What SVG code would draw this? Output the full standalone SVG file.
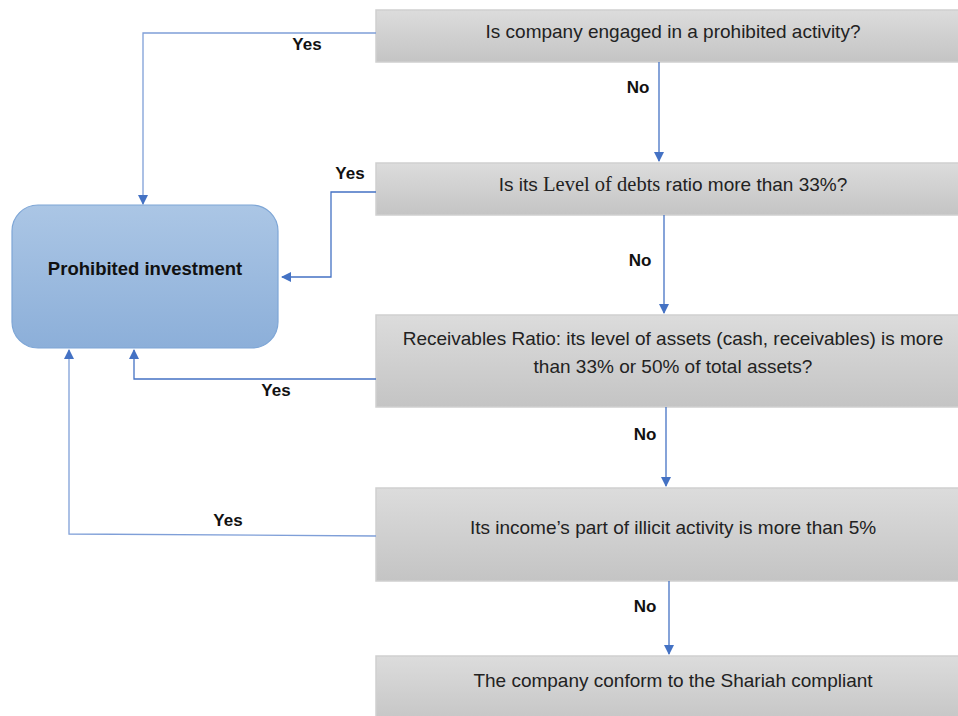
<svg xmlns="http://www.w3.org/2000/svg" width="958" height="716" viewBox="0 0 958 716">
<defs>
<linearGradient id="gray" x1="0" y1="0" x2="0" y2="1">
<stop offset="0" stop-color="#dcdcdc"/>
<stop offset="1" stop-color="#c4c4c4"/>
</linearGradient>
<linearGradient id="blue" x1="0" y1="0" x2="0" y2="1">
<stop offset="0" stop-color="#abc6e5"/>
<stop offset="1" stop-color="#8cafd9"/>
</linearGradient>
<marker id="arr" markerWidth="10" markerHeight="10" refX="9" refY="5" orient="auto" markerUnits="userSpaceOnUse">
<path d="M0,0 L10,5 L0,10 Z" fill="#4472c4"/>
</marker>
</defs>
<style>
.box{fill:url(#gray);stroke:#cfcfcf;stroke-width:1.5}
.t{font-family:"Liberation Sans",Arial,sans-serif;font-size:19px;fill:#222;text-anchor:middle}
.lab{font-family:"Liberation Sans",Arial,sans-serif;font-size:17px;font-weight:bold;fill:#111;text-anchor:middle}
.big{font-size:18.5px}
.c{fill:none;stroke:#4472c4;stroke-width:1.3;marker-end:url(#arr)}
.cl{fill:none;stroke:#7f9fd8;stroke-width:1.3;marker-end:url(#arr)}
</style>
<rect width="958" height="716" fill="#fff"/>
<g id="n1"><rect class="box" x="376" y="10" width="590" height="52"/><text class="t" x="673" y="38">Is company engaged in a prohibited activity?</text></g>
<g id="n2"><rect class="box" x="376" y="163" width="590" height="52"/><text class="t" x="673" y="191">Is its <tspan font-family="Liberation Serif,Times New Roman,serif" font-size="20.5">Level of debts</tspan> ratio more than 33%?</text></g>
<g id="n3"><rect class="box" x="376" y="315" width="590" height="92"/><text class="t" x="673" y="345">Receivables Ratio: its level of assets (cash, receivables) is more</text><text class="t" x="673" y="373">than 33% or 50% of total assets?</text></g>
<g id="n4"><rect class="box" x="376" y="488" width="590" height="93"/><text class="t" x="673" y="534">Its income’s part of illicit activity is more than 5%</text></g>
<g id="n5"><rect class="box" x="376" y="656" width="590" height="70"/><text class="t" x="673" y="687">The company conform to the Shariah compliant</text></g>
<g id="prohibited"><rect x="12" y="205" width="266" height="143" rx="26" fill="url(#blue)" stroke="#7ea6d6" stroke-width="1.2"/><text class="lab big" x="145" y="275">Prohibited investment</text></g>
<g id="connectors">
<path class="cl" d="M376,33 H143 V204"/>
<path class="c" d="M376,192 H331 V277 H282"/>
<path class="c" d="M376,379 H134 V350"/>
<path class="cl" d="M376,536 L69,534 V350"/>
<path class="c" d="M659,62 V161"/>
<path class="c" d="M664,215 V313"/>
<path class="c" d="M666,407 V486"/>
<path class="c" d="M669,581 V654"/>
<text class="lab" x="307" y="50">Yes</text>
<text class="lab" x="350" y="179">Yes</text>
<text class="lab" x="276" y="396">Yes</text>
<text class="lab" x="228" y="526">Yes</text>
<text class="lab" x="638" y="93">No</text>
<text class="lab" x="640" y="266">No</text>
<text class="lab" x="645" y="440">No</text>
<text class="lab" x="645" y="612">No</text>
</g>
</svg>
